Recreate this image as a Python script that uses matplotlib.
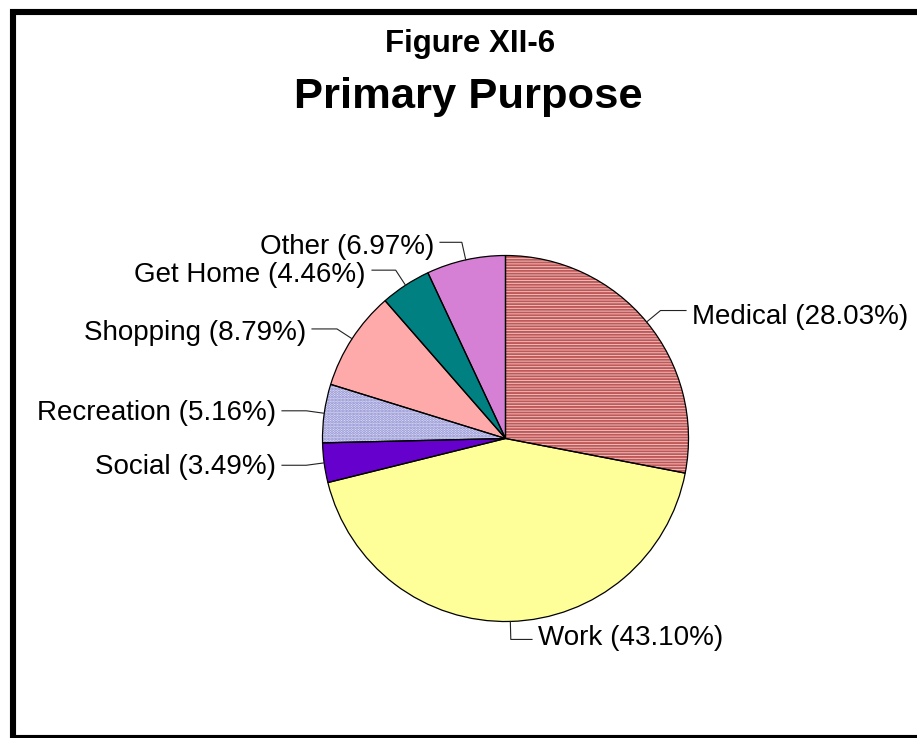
import numpy as np
import matplotlib
matplotlib.use("Agg")
import matplotlib.pyplot as plt
from matplotlib.patches import Rectangle

# trip purpose shares, clockwise from 12 o'clock
purposes = ["Medical", "Work", "Social", "Recreation", "Shopping", "Get Home", "Other"]
shares = [28.03, 43.10, 3.49, 5.16, 8.79, 4.46, 6.97]

colors = ["#f4cccc", "#ffff99", "#6600cc", "#e2e2f4", "#ffaaaa", "#008080", "#d580d5"]
hatches = ["------", None, None, "......", None, None, None]
hatch_colors = ["#c05858", None, None, "#8484d0", None, None, None]

# label anchor (x, y in pixels from top-left) and alignment
label_pos = [(692, 317, "left"), (538, 638, "left"), (276, 467, "right"),
             (276, 413, "right"), (306, 333, "right"), (366, 275, "right"),
             (434, 247, "right")]

W, H = 917, 738
plt.rcParams["font.family"] = ["Liberation Sans", "DejaVu Sans"]
plt.rcParams["hatch.linewidth"] = 1.4

fig = plt.figure(figsize=(W / 100, H / 100), dpi=100)
ax = fig.add_axes([0, 0, 1, 1])


def py(y):
    # pixel row -> data y
    return H - y


cx, cy, r = 505.5, py(438.5), 183

wedges, _ = ax.pie(shares, colors=colors, startangle=90, counterclock=False,
                   center=(cx, cy), radius=r, frame=True,
                   wedgeprops=dict(linewidth=0))
for w, h, hc in zip(wedges, hatches, hatch_colors):
    if h:
        w.set_hatch(h)
        w.set_edgecolor(hc)

# black outlines on top of the fills
ax.pie(shares, colors=["none"] * len(shares), startangle=90, counterclock=False,
       center=(cx, cy), radius=r, frame=True,
       wedgeprops=dict(linewidth=0.9, edgecolor="black"))
ax.set_xlim(0, W)
ax.set_ylim(0, H)
ax.set_aspect("equal")
ax.axis("off")

# labels with elbow leader lines
for w, name, val, (tx, ty, side) in zip(wedges, purposes, shares, label_pos):
    mid = np.deg2rad((w.theta1 + w.theta2) / 2)
    ex, ey = cx + r * np.cos(mid), cy + r * np.sin(mid)
    bx, by = cx + (r + 18) * np.cos(mid), cy + (r + 18) * np.sin(mid)
    text = f"{name} ({val:.2f}%)"
    if side == "right":
        end = tx + 6
    else:
        end = tx - 6
    ax.plot([ex, bx, end], [ey, by, by], color="#222222", lw=0.8)
    ax.text(tx, py(ty), text, ha=side, va="center", fontsize=20)

ax.text(470, py(52), "Figure XII-6", ha="center", va="baseline",
        fontsize=22.5, fontweight="bold")
ax.text(468, py(108), "Primary Purpose", ha="center", va="baseline",
        fontsize=31.3, fontweight="bold")

# heavy frame round the chart
ax.add_patch(Rectangle((13, py(738)), 960, 738 - 12, fill=False,
                       edgecolor="black", linewidth=4.4, clip_on=False))

fig.savefig("out.png", dpi=100)
